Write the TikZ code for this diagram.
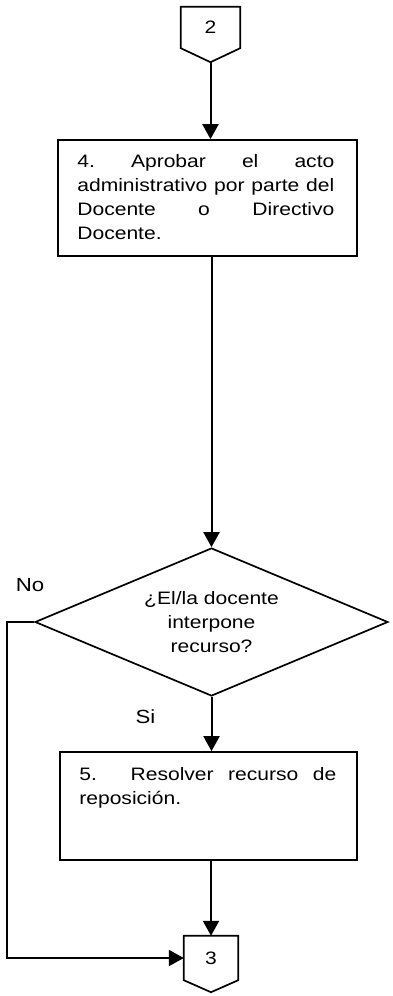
\documentclass[tikz,border=0pt]{standalone}
\usepackage{fontspec}
\setmainfont{Liberation Sans}[FakeStretch=1.17]
\usetikzlibrary{shapes.geometric,arrows.meta}

\tikzset{
  borde/.style={line width=1.7pt, line join=miter},
  caja/.style={borde, draw, rectangle, inner sep=0pt},
  texto/.style={text width=257pt, align=justify, inner sep=0pt,
    font=\fontsize{18}{24}\selectfont},
  conector/.style={inner sep=0pt, minimum width=59pt, minimum height=41pt,
    font=\fontsize{18}{24}\selectfont},
  decision/.style={borde, draw, diamond, aspect=2.385, inner sep=0pt,
    minimum width=353pt, minimum height=148pt, align=center,
    font=\fontsize{18}{24}\selectfont},
  etiqueta/.style={inner sep=0pt, font=\fontsize{19}{24}\selectfont},
  linea/.style={line width=2pt},
  flecha/.style={linea, -{Triangle[length=15pt,width=16pt]}}
}

\begin{document}
\begin{tikzpicture}[x=1pt,y=1pt]
\useasboundingbox (0,0) rectangle (393,-996);

% conector 2
\node[conector] (con2) at (210.5,-27.5) {2};
\draw[borde] (con2.north west) -- (con2.north east) -- (con2.south east)
      -- ([yshift=-14]con2.south) -- (con2.south west) -- cycle;
\coordinate (con2pta) at ([yshift=-14]con2.south);

% paso 4
\node[caja, minimum width=299pt, minimum height=116pt] (paso4) at (207.5,-198) {};
\node[texto, anchor=north west] (paso4txt) at ([xshift=20,yshift=-15]paso4.north west)
      {4.\ Aprobar el acto\linebreak administrativo por parte del\linebreak
       Docente o Directivo\linebreak Docente.};

% decision
\node[decision] (dec) at (211.5,-622) {¿El/la docente\\interpone\\recurso?};
\node[etiqueta] (no) at (30,-585.5) {No};
\node[etiqueta] (si) at (145.5,-716.5) {Si};

% paso 5
\node[caja, minimum width=297pt, minimum height=108pt] (paso5) at (208.5,-806) {};
\node[texto, anchor=north west] (paso5txt) at ([xshift=20,yshift=-16]paso5.north west)
      {5. Resolver recurso de\linebreak reposición.};

% conector 3
\node[conector, minimum width=54pt, minimum height=44pt] (con3) at (211,-958) {3};
\draw[borde] (con3.north west) -- (con3.north east) -- (con3.south east)
      -- ([yshift=-12]con3.south) -- (con3.south west) -- cycle;

\draw[flecha] (con2pta) -- (con2pta |- paso4.north);
\draw[flecha] (paso4.south -| dec.north) -- (dec.north);
\draw[flecha] (dec.south) -- (dec.south |- paso5.north);
\draw[flecha] (paso5.south -| con3.north) -- (con3.north);
\draw[flecha] (dec.west) -- ++(-27,0) |- (con3.west);
\end{tikzpicture}
\end{document}
